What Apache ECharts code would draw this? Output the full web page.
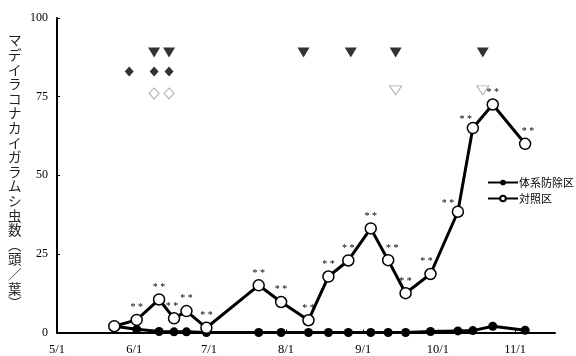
<!DOCTYPE html>
<html>
<head>
<meta charset="utf-8">
<script src="https://cdn.jsdelivr.net/npm/echarts@6/dist/echarts.min.js"></script>
<style>html,body{margin:0;padding:0;background:#fff;}#c{width:576px;height:356px;}</style>
</head>
<body>
<div id="c"></div>
<script>
// ---- data ----
const tickDays = [0, 31, 61, 92, 123, 153, 184];           // days since 5/1
const tickLabels = ['5/1', '6/1', '7/1', '8/1', '9/1', '10/1', '11/1'];
const yTicks = [0, 25, 50, 75, 100];
const sampleDays = [23, 32, 41, 47, 52, 60, 81, 90, 101, 109, 117, 126, 133, 140, 150, 161, 167, 175, 188];
const controlValues = [2, 4, 10.5, 4.5, 6.8, 1.5, 15, 9.7, 3.9, 17.8, 22.9, 33.1, 23, 12.5, 18.6, 38.4, 65, 72.5, 60];
const treatedValues = [2, 1, 0.3, 0.2, 0.2, 0, 0, 0, 0, 0, 0, 0, 0, 0, 0.3, 0.5, 0.6, 2, 0.7];
const sigLabels = ['', '**', '**', '**', '**', '**', '**', '**', '**', '**', '**', '**', '**', '**', '**', '**', '**', '**', '**'];
const filledTriDays = [39, 45, 99, 118, 136, 171];
const filledTriLevel = 89;
const filledDiaDays = [29, 39, 45];
const filledDiaLevel = 83;
const openDiaDays = [39, 45];
const openDiaLevel = 76;
const openTriDays = [136, 171];
const openTriLevel = 77;
const seriesNames = ['体系防除区', '対照区'];
const yTitle = 'マデイラコナカイガラムシ虫数︵頭／葉︶';

// ---- chart ----
const FONT = "'Liberation Serif','Noto Sans CJK JP'";
const labelOffsets = {3: [-2, 0], 12: [4, 0], 14: [-4, 0], 15: [-10, 4], 16: [-7, 4], 18: [3, 0]};
const chart = echarts.init(document.getElementById('c'), null, {renderer: 'canvas'});
const pts = (days, vals) => days.map((d, i) => [d, vals[i]]);
const flat = (days, level) => days.map(d => [d, level]);

const controlData = sampleDays.map((d, i) => ({
  value: [d, controlValues[i]],
  label: {show: sigLabels[i] !== '', formatter: sigLabels[i].split('').join(' '), offset: labelOffsets[i] || [0, 0]}
}));

chart.setOption({
  animation: false,
  backgroundColor: '#fff',
  textStyle: {fontFamily: FONT, color: '#000'},
  grid: {left: 57, right: 21, top: 18, bottom: 21, containLabel: false},
  xAxis: {
    type: 'value', min: 0, max: 200,
    axisLine: {show: true, lineStyle: {color: '#000', width: 2}},
    axisTick: {show: true, inside: true, length: 3, customValues: tickDays, lineStyle: {color: '#000', width: 1}},
    axisLabel: {
      customValues: tickDays, margin: 11, fontSize: 12.5, fontFamily: FONT, color: '#000',
      formatter: v => tickLabels[tickDays.indexOf(v)]
    },
    splitLine: {show: false}
  },
  yAxis: {
    type: 'value', min: 0, max: 100, interval: 25,
    axisLine: {show: true, lineStyle: {color: '#000', width: 2}},
    axisTick: {show: true, inside: true, length: 3, lineStyle: {color: '#000', width: 1}},
    axisLabel: {margin: 9, fontSize: 12, fontFamily: FONT, color: '#000',
      formatter: v => yTicks.indexOf(v) >= 0 ? String(v) : ''},
    splitLine: {show: false}
  },
  legend: {
    orient: 'vertical', left: 482, top: 172, itemWidth: 30, itemHeight: 7, itemGap: 5,
    textStyle: {fontSize: 11, fontFamily: "'Noto Sans CJK JP'", color: '#000', padding: [0, 0, 0, -4]},
    data: seriesNames
  },
  graphic: [{
    type: 'text', left: 8, top: 33,
    style: {text: yTitle.split('').join('\n'), fontSize: 13.5, lineHeight: 14.6,
      fontFamily: "'Noto Sans CJK JP'", fill: '#222', align: 'center'}
  }],
  series: [
    {
      name: seriesNames[0], type: 'line', data: pts(sampleDays, treatedValues),
      symbol: 'circle', symbolSize: 9, z: 3,
      itemStyle: {color: '#000'}, lineStyle: {color: '#000', width: 3}
    },
    {
      name: seriesNames[1], type: 'line', data: controlData,
      symbol: 'circle', symbolSize: 11, z: 4,
      itemStyle: {color: '#fff', borderColor: '#000', borderWidth: 1.5},
      lineStyle: {color: '#000', width: 3},
      label: {position: 'top', distance: 1, fontSize: 10, color: '#000', fontFamily: FONT}
    },
    {type: 'scatter', data: flat(filledTriDays, filledTriLevel), symbol: 'triangle', symbolRotate: 180,
      symbolSize: [12, 10], itemStyle: {color: '#000'}, silent: true},
    {type: 'scatter', data: flat(filledDiaDays, filledDiaLevel), symbol: 'diamond',
      symbolSize: [9, 10], itemStyle: {color: '#000'}, silent: true},
    {type: 'scatter', data: flat(openDiaDays, openDiaLevel), symbol: 'diamond',
      symbolSize: [10, 11], itemStyle: {color: '#fff', borderColor: '#999', borderWidth: 1}, silent: true},
    {type: 'scatter', data: flat(openTriDays, openTriLevel), symbol: 'triangle', symbolRotate: 180,
      symbolSize: [12, 9], itemStyle: {color: '#fff', borderColor: '#999', borderWidth: 1}, silent: true}
  ]
});
</script>
</body>
</html>
